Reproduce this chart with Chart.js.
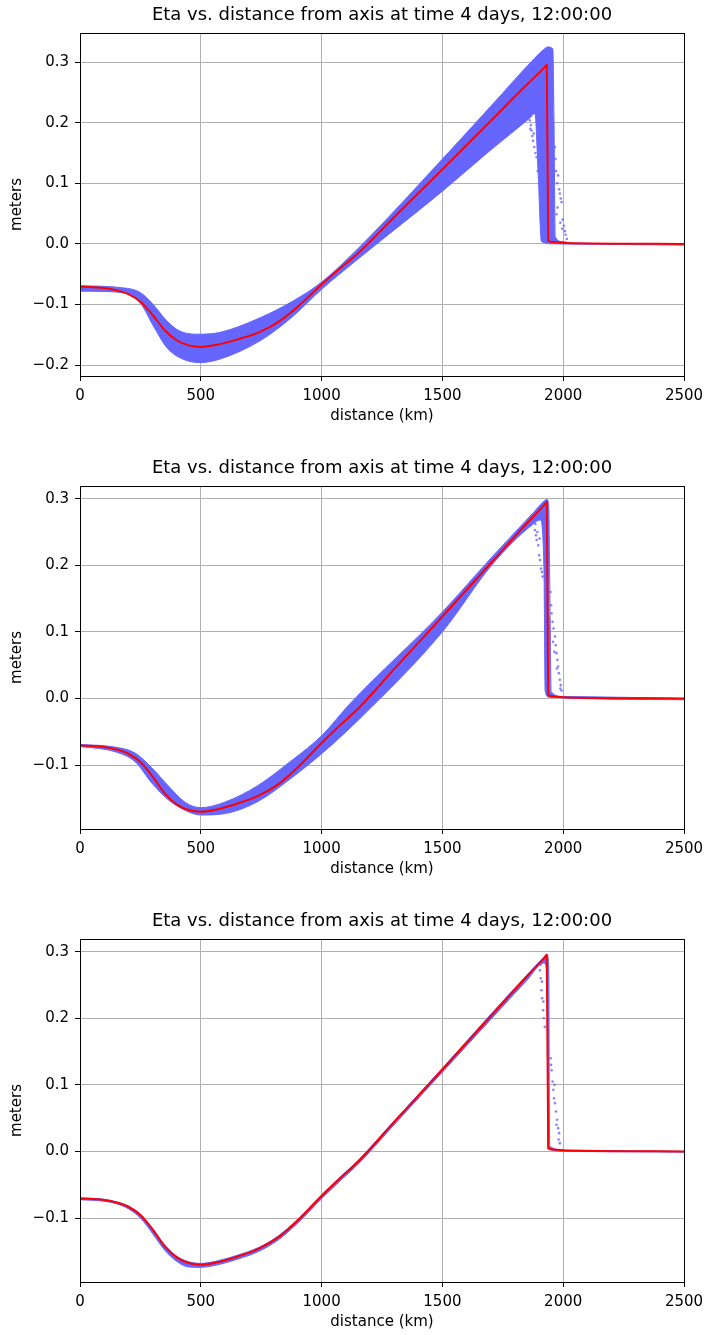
<!DOCTYPE html>
<html>
<head>
<meta charset="utf-8">
<script src="https://cdn.jsdelivr.net/npm/chart.js@4.4.0/dist/chart.umd.min.js"></script>
<style>
  html, body { margin: 0; padding: 0; background: #fff; overflow: hidden; }
  .panel { position: absolute; left: 0; width: 705px; height: 445px; }
</style>
</head>
<body>
<div class="panel" style="top:0px"><canvas id="eta1" width="705" height="445"></canvas></div>
<div class="panel" style="top:453px"><canvas id="eta2" width="705" height="445"></canvas></div>
<div class="panel" style="top:906px"><canvas id="eta3" width="705" height="445"></canvas></div>
<script>
const TITLE = "Eta vs. distance from axis at time 4 days, 12:00:00";
const xTicks = [0, 500, 1000, 1500, 2000, 2500];
const yTicks = [-0.2, -0.1, 0.0, 0.1, 0.2, 0.3];
const yTickLabels = ["\u22120.2", "\u22120.1", "0.0", "0.1", "0.2", "0.3"];
const yMin = [-0.218, -0.196, -0.196];
const yMax = [0.348, 0.319, 0.319];

// red curve (same in all three panels)
const meanKm  = [0, 100, 150, 200, 250, 300, 350, 400, 450, 500, 560, 650, 740, 820, 900, 1000, 1060, 1160, 1300, 1500, 1700, 1850, 1920, 1932, 1938, 1960, 2010, 2500];
const meanEta = [-0.0705, -0.0728, -0.0765, -0.083, -0.0955, -0.117, -0.142, -0.159, -0.1675, -0.170, -0.167, -0.158, -0.146, -0.129, -0.104, -0.067, -0.046, -0.012, 0.044, 0.123, 0.203, 0.263, 0.290, 0.295, 0.005, 0.003, 0.0015, 0.0];

// blue cloud, panel 1 (edges)
const upper1Km  = [0, 166, 248, 303, 359, 414, 497, 580, 745, 883, 1000, 1160, 1500, 1700, 1876, 1920, 1935, 1957, 1962, 1967, 1995, 2040, 2500];
const upper1Eta = [-0.069, -0.072, -0.080, -0.100, -0.127, -0.144, -0.149, -0.146, -0.122, -0.094, -0.063, -0.004, 0.140, 0.227, 0.304, 0.321, 0.325, 0.322, 0.2, 0.012, 0.004, 0.001, 0.0];
const lower1Km  = [0, 166, 248, 303, 359, 414, 497, 580, 745, 883, 1000, 1160, 1500, 1700, 1860, 1883, 1896, 1910, 1960, 2500];
const lower1Eta = [-0.078, -0.080, -0.097, -0.135, -0.171, -0.188, -0.196, -0.190, -0.160, -0.119, -0.075, -0.022, 0.087, 0.155, 0.207, 0.215, 0.12, 0.004, 0.0, -0.002];
const scatter1Km  = [1862, 1864, 1866, 1869, 1872, 1875, 1878, 1880, 1885, 1890, 1895, 1966, 1968, 1970, 1972, 1975, 1977, 1979, 1983, 1986, 1988, 1990, 1993, 1996, 1998, 2003, 2007, 2010, 2015];
const scatter1Eta = [0.204, 0.190, 0.196, 0.187, 0.178, 0.170, 0.182, 0.160, 0.150, 0.143, 0.120, 0.160, 0.140, 0.120, 0.049, 0.100, 0.060, 0.113, 0.090, 0.083, 0.035, 0.075, 0.069, 0.025, 0.040, 0.030, 0.021, 0.015, 0.008];

// panel 2
const upper2Km  = [0, 145, 228, 297, 365, 435, 500, 597, 735, 873, 1000, 1117, 1500, 1704, 1876, 1920, 1932, 1940, 1946, 1950, 2000, 2500];
const upper2Eta = [-0.069, -0.073, -0.082, -0.104, -0.131, -0.156, -0.164, -0.156, -0.131, -0.094, -0.056, -0.008, 0.130, 0.212, 0.279, 0.296, 0.299, 0.29, 0.12, 0.01, 0.003, 0.0];
const lower2Km  = [0, 145, 228, 297, 365, 435, 500, 597, 735, 873, 1000, 1159, 1500, 1704, 1876, 1905, 1920, 1926, 1940, 2500];
const lower2Eta = [-0.072, -0.080, -0.095, -0.127, -0.152, -0.168, -0.175, -0.173, -0.155, -0.120, -0.083, -0.030, 0.100, 0.200, 0.262, 0.268, 0.2, 0.01, 0.002, -0.002];
const scatter2Km  = [1883, 1885, 1887, 1890, 1893, 1897, 1900, 1902, 1904, 1908, 1912, 1915, 1947, 1950, 1952, 1956, 1958, 1960, 1963, 1966, 1969, 1972, 1974, 1976, 1979, 1982, 1986, 1988, 1990, 1993];
const scatter2Eta = [0.253, 0.262, 0.245, 0.238, 0.250, 0.230, 0.215, 0.240, 0.208, 0.195, 0.190, 0.183, 0.160, 0.140, 0.128, 0.115, 0.085, 0.105, 0.070, 0.093, 0.080, 0.068, 0.045, 0.058, 0.048, 0.038, 0.028, 0.015, 0.020, 0.012];

// panel 3
const upper3Km  = [0, 100, 150, 200, 250, 300, 350, 400, 450, 500, 560, 650, 740, 820, 900, 1000, 1060, 1160, 1300, 1500, 1700, 1850, 1920, 1932, 1940, 1944, 2010, 2500];
const upper3Eta = [-0.0695, -0.0718, -0.0755, -0.082, -0.094, -0.115, -0.140, -0.157, -0.1655, -0.168, -0.165, -0.156, -0.144, -0.127, -0.102, -0.065, -0.044, -0.010, 0.046, 0.125, 0.206, 0.265, 0.292, 0.296, 0.28, 0.008, 0.002, 0.0];
const lower3Km  = [0, 100, 150, 200, 250, 300, 350, 400, 450, 500, 560, 650, 740, 820, 900, 1000, 1060, 1160, 1300, 1500, 1700, 1850, 1920, 1934, 1937, 2010, 2500];
const lower3Eta = [-0.0725, -0.0748, -0.0785, -0.086, -0.100, -0.123, -0.148, -0.165, -0.1735, -0.174, -0.171, -0.162, -0.150, -0.133, -0.108, -0.071, -0.050, -0.016, 0.040, 0.119, 0.198, 0.257, 0.283, 0.26, 0.004, 0.0, -0.001];
const scatter3Km  = [1904, 1906, 1907, 1910, 1912, 1913, 1917, 1918, 1920, 1924, 1948, 1950, 1952, 1956, 1959, 1962, 1964, 1966, 1970, 1972, 1975, 1979, 1981, 1983, 1986];
const scatter3Eta = [0.272, 0.280, 0.260, 0.242, 0.255, 0.230, 0.212, 0.225, 0.200, 0.187, 0.140, 0.130, 0.122, 0.105, 0.0925, 0.080, 0.100, 0.0725, 0.060, 0.040, 0.0475, 0.035, 0.018, 0.0275, 0.0125];

const BLUE = "#6666ff";
const RED = "#ff0000";

Chart.defaults.font.family = "'DejaVu Sans', sans-serif";
Chart.defaults.color = "#000";

const pts = (xs, ys) => xs.map((x, i) => ({ x: x, y: ys[i] }));
const align = (p) => Math.round(p - 0.5) + 0.5;

// black box round the axes, like matplotlib spines
const framePlugin = {
  id: "frame",
  afterDatasetsDraw(chart) {
    const a = chart.chartArea;
    const ctx = chart.ctx;
    ctx.save();
    ctx.strokeStyle = "#000";
    ctx.lineWidth = 1;
    const l = align(a.left), r = align(a.right), t = align(a.top), b = align(a.bottom);
    ctx.strokeRect(l, t, r - l, b - t);
    ctx.restore();
  }
};

function makeChart(id, n, upKm, up, loKm, lo, scKm, sc) {
  const ctx = document.getElementById(id).getContext("2d");
  return new Chart(ctx, {
    type: "line",
    data: {
      datasets: [
        {
          label: "mean",
          data: pts(meanKm, meanEta),
          borderColor: RED,
          borderWidth: 2,
          pointRadius: 0,
          cubicInterpolationMode: "monotone",
          fill: false
        },
        {
          label: "outliers",
          data: pts(scKm, sc),
          showLine: false,
          pointRadius: 1.3,
          pointBorderWidth: 0,
          pointBackgroundColor: "rgba(102,102,255,0.8)"
        },
        {
          label: "upper",
          data: pts(upKm, up),
          borderColor: BLUE,
          borderWidth: 1,
          pointRadius: 0,
          cubicInterpolationMode: "monotone",
          backgroundColor: BLUE,
          fill: "+1"
        },
        {
          label: "lower",
          data: pts(loKm, lo),
          borderColor: BLUE,
          borderWidth: 1,
          pointRadius: 0,
          cubicInterpolationMode: "monotone",
          fill: false
        }
      ]
    },
    options: {
      responsive: false,
      animation: false,
      devicePixelRatio: 1,
      layout: { padding: { left: 0, right: 21, top: 0, bottom: 0 } },
      plugins: {
        legend: { display: false },
        tooltip: { enabled: false },
        title: {
          display: true,
          text: TITLE,
          fullSize: false,
          font: { size: 18, weight: "normal" },
          padding: { top: 5, bottom: 6.4 }
        }
      },
      scales: {
        x: {
          type: "linear",
          min: 0,
          max: 2500,
          afterBuildTicks: (s) => { s.ticks = xTicks.map((v) => ({ value: v })); },
          afterFit: (s) => { s.height = 69; s.paddingLeft = 0; s.paddingRight = 0; },
          ticks: { font: { size: 15 }, padding: 6, maxRotation: 0, callback: (v) => String(v) },
          grid: { color: "#b0b0b0", lineWidth: 1, tickColor: "#000", tickLength: 5 },
          border: { display: false },
          title: { display: true, text: "distance (km)", font: { size: 15 }, padding: { top: 0, bottom: 20 } }
        },
        y: {
          type: "linear",
          min: yMin[n],
          max: yMax[n],
          afterBuildTicks: (s) => {
            s.ticks = yTicks.filter((v) => v >= s.min && v <= s.max).map((v) => ({ value: v }));
          },
          afterFit: (s) => { s.width = 80; s.paddingTop = 0; s.paddingBottom = 0; },
          ticks: {
            font: { size: 15 },
            padding: 6,
            callback: (v) => yTickLabels[yTicks.indexOf(v)]
          },
          grid: { color: "#b0b0b0", lineWidth: 1, tickColor: "#000", tickLength: 5 },
          border: { display: false },
          title: { display: true, text: "meters", font: { size: 15 }, padding: { top: 8, bottom: 0 } }
        }
      }
    },
    plugins: [framePlugin]
  });
}

makeChart("eta1", 0, upper1Km, upper1Eta, lower1Km, lower1Eta, scatter1Km, scatter1Eta);
makeChart("eta2", 1, upper2Km, upper2Eta, lower2Km, lower2Eta, scatter2Km, scatter2Eta);
makeChart("eta3", 2, upper3Km, upper3Eta, lower3Km, lower3Eta, scatter3Km, scatter3Eta);
</script>
</body>
</html>
